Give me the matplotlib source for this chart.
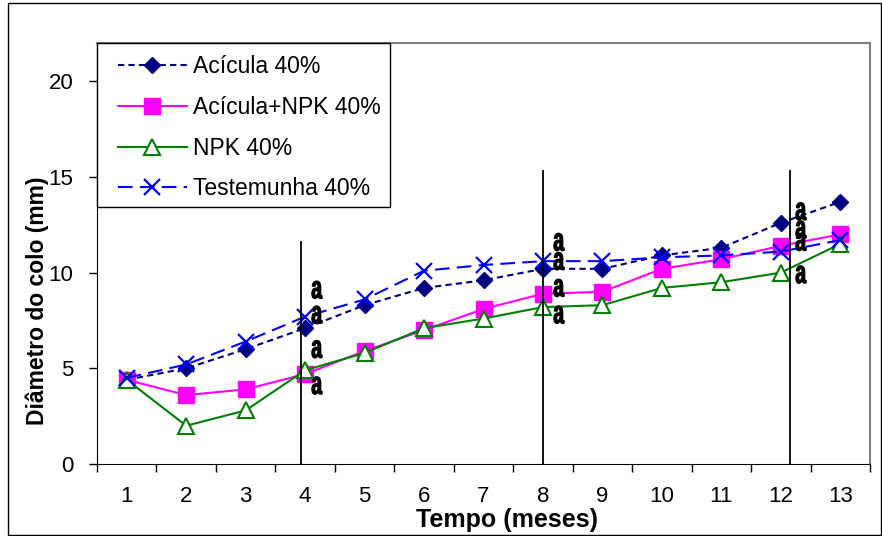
import numpy as np
import matplotlib.pyplot as plt
import matplotlib.transforms as mtransforms
from matplotlib.patches import Rectangle, PathPatch
from matplotlib.textpath import TextPath
from matplotlib.font_manager import FontProperties

plt.rcParams['font.family'] = ['Liberation Sans', 'DejaVu Sans']

meses = np.arange(1, 14)
acicula = [4.4, 5.0, 6.0, 7.1, 8.3, 9.2, 9.6, 10.2, 10.2, 10.9, 11.3, 12.6, 13.7]
acicula_npk = [4.4, 3.6, 3.9, 4.7, 5.9, 7.0, 8.1, 8.9, 9.0, 10.2, 10.7, 11.4, 12.0]
npk = [4.4, 2.0, 2.8, 4.9, 5.8, 7.1, 7.6, 8.2, 8.3, 9.2, 9.5, 10.0, 11.5]
testemunha = [4.5, 5.2, 6.4, 7.7, 8.6, 10.1, 10.4, 10.6, 10.6, 10.8, 10.9, 11.1, 11.7]

fig = plt.figure(figsize=(8.82, 5.36), dpi=100)
ax = fig.add_axes([97 / 882, 1 - 464 / 536, (870 - 97) / 882, (464 - 43) / 536])
ax.set_xlim(0.5, 13.5)
ax.set_ylim(0, 22)

ax.plot(meses, acicula, color='#000080', ls=(0, (3, 2)), lw=1.5,
        marker='D', ms=8, label='Acícula 40%')
ax.plot(meses, acicula_npk, color='#FF00FF', lw=1.5,
        marker='s', ms=11, label='Acícula+NPK 40%')
ax.plot(meses, npk, color='#008000', lw=1.5, marker='^', ms=11,
        mfc='white', mec='#008000', mew=1.5, label='NPK 40%')
ax.plot(meses, testemunha, color='#0000FF', ls=(0, (7, 3.5)), lw=1.5,
        marker='x', ms=12, mew=1.6, label='Testemunha 40%')

# linhas verticais de comparação
for xv, top in [(3.93, 11.6), (8.0, 15.3), (12.15, 15.3)]:
    ax.plot([xv, xv], [0, top], color='black', lw=1.3)

# letras de significância (fonte estreita simulada)
fp = FontProperties(family='Liberation Sans', weight='bold')
glyph = TextPath((0, 0), 'a', size=32, prop=fp)
bb = glyph.get_extents()
cx, cy = (bb.x0 + bb.x1) / 2, (bb.y0 + bb.y1) / 2
letras = [(4.2, [9.1, 7.8, 6.0, 4.1]),
          (8.27, [11.6, 10.6, 9.2, 7.8]),
          (12.34, [13.2, 12.25, 11.6, 9.9])]
for xv, ys in letras:
    for yv in ys:
        tr = (mtransforms.Affine2D().translate(-cx, -cy).scale(0.6, 1.0)
              + mtransforms.ScaledTranslation(xv, yv, ax.transData))
        ax.add_patch(PathPatch(glyph, transform=tr, facecolor='black',
                               edgecolor='black', lw=0.9, zorder=6))

ax.set_yticks([0, 5, 10, 15, 20])
ax.set_xticks(np.arange(0.5, 14, 1))
ax.set_xticklabels([])
ax.set_xticks(meses, minor=True)
ax.set_xticklabels([str(m) for m in meses], minor=True)
ax.tick_params(axis='x', which='major', direction='out', length=6, width=1)
ax.tick_params(axis='x', which='minor', length=0, labelsize=16, pad=16)
ax.tick_params(axis='y', direction='out', length=6, width=1, labelsize=16,
               pad=11)

for s in ['top', 'right']:
    ax.spines[s].set_color('#808080')
    ax.spines[s].set_linewidth(1.5)
for s in ['left', 'bottom']:
    ax.spines[s].set_color('black')

ax.set_ylabel('Diâmetro do colo (mm)', fontsize=16.5, fontweight='bold')
ax.yaxis.set_label_coords(-0.062, 0.387)
ax.set_xlabel('Tempo (meses)', fontsize=18, fontweight='bold')
ax.xaxis.set_label_coords(0.53, -0.104)

# moldura da legenda
ax.add_patch(Rectangle((0, 0.61), 0.379, 0.39, transform=ax.transAxes,
                       facecolor='white', edgecolor='black', lw=1,
                       zorder=7, clip_on=False))
leg = ax.legend(loc='upper left', bbox_to_anchor=(0.027, 0.972),
                borderaxespad=0, borderpad=0, frameon=False, fontsize=16.5,
                handlelength=3.0, handletextpad=0.3, labelspacing=0.78)
leg.set_zorder(8)

fig.patches.append(Rectangle((8 / 882, 1 / 536), 873 / 882, 532 / 536,
                             transform=fig.transFigure, fill=False,
                             edgecolor='black', lw=1))

fig.savefig('out.png', dpi=100)
